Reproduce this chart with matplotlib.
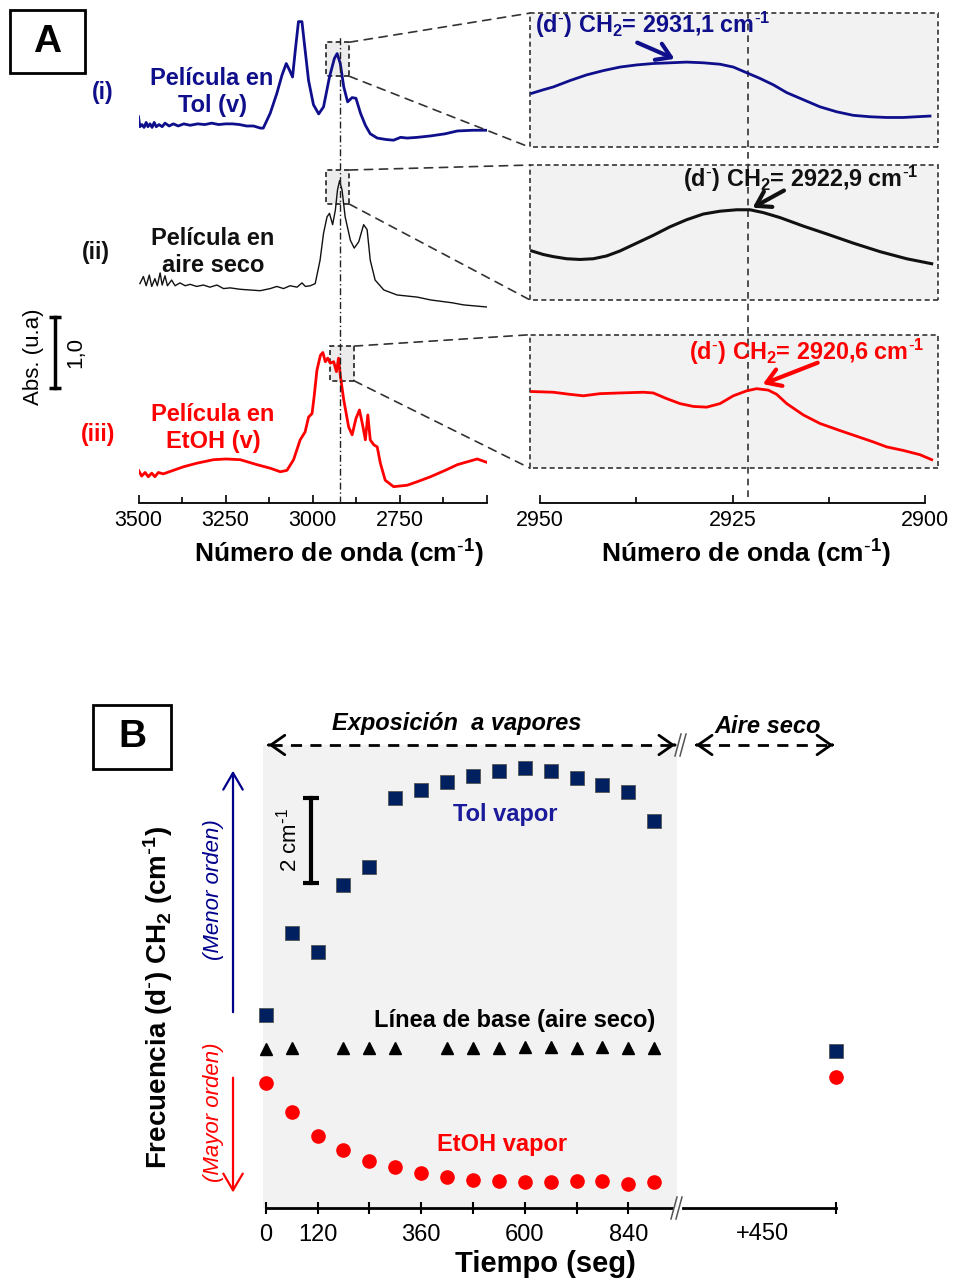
import matplotlib
matplotlib.use("Agg")
import matplotlib.pyplot as plt
from matplotlib.patches import Rectangle, ConnectionPatch
from matplotlib.lines import Line2D

plt.rcParams['font.family'] = ['Liberation Sans', 'DejaVu Sans']
plt.rcParams['mathtext.default'] = 'regular'

# ------------------------------------------------------------------
# Panel A data : FTIR spectra (stacked for display, a.u.)
# ------------------------------------------------------------------
wn_tol = [3500, 3496, 3490, 3484, 3478, 3473, 3467, 3461, 3455, 3449,
          3441, 3432, 3424, 3412, 3400, 3386, 3370, 3352, 3330, 3310,
          3290, 3270, 3250, 3230, 3210, 3190, 3170, 3150, 3142, 3122,
          3103, 3088, 3076, 3067, 3058, 3050, 3041, 3031, 3024, 3012,
          2998, 2983, 2969, 2952, 2938, 2930, 2921, 2911, 2900, 2887,
          2876, 2863, 2849, 2835, 2815, 2790, 2768, 2748, 2729, 2700,
          2662, 2620, 2585, 2540, 2499]
abs_tol = [5.44, 5.30, 5.33, 5.29, 5.36, 5.30, 5.34, 5.29, 5.36, 5.30,
           5.33, 5.30, 5.35, 5.31, 5.34, 5.31, 5.34, 5.32, 5.34, 5.33,
           5.35, 5.33, 5.34, 5.34, 5.33, 5.31, 5.31, 5.28, 5.28, 5.49,
           5.77, 6.03, 6.19, 6.10, 6.00, 6.38, 6.78, 6.78, 6.47, 5.95,
           5.61, 5.48, 5.58, 6.00, 6.26, 6.33, 6.19, 5.86, 5.65, 5.71,
           5.70, 5.49, 5.32, 5.20, 5.14, 5.12, 5.11, 5.15, 5.14, 5.15,
           5.17, 5.20, 5.24, 5.25, 5.25]

wn_air = [3496, 3486, 3478, 3469, 3462, 3453, 3446, 3438, 3432, 3424,
          3417, 3405, 3395, 3381, 3366, 3352, 3333, 3314, 3295, 3275,
          3256, 3237, 3208, 3180, 3151, 3122, 3103, 3084, 3065, 3045,
          3031, 3021, 3007, 2993, 2979, 2969, 2959, 2952, 2943, 2935,
          2929, 2923, 2916, 2907, 2892, 2881, 2868, 2854, 2844, 2835,
          2821, 2796, 2758, 2700, 2662, 2600, 2567, 2499]
abs_air = [3.09, 3.19, 3.06, 3.21, 3.05, 3.16, 3.06, 3.24, 3.07, 3.20,
           3.06, 3.14, 3.06, 3.10, 3.06, 3.08, 3.05, 3.07, 3.04, 3.07,
           3.02, 3.03, 3.01, 3.00, 2.99, 3.02, 3.05, 3.02, 3.06, 3.04,
           3.10, 3.05, 3.06, 3.09, 3.42, 3.80, 4.03, 4.08, 3.92, 4.13,
           4.41, 4.54, 4.41, 4.03, 3.70, 3.59, 3.68, 3.92, 3.85, 3.42,
           3.14, 3.00, 2.93, 2.90, 2.86, 2.82, 2.79, 2.76]

wn_etoh = [3500, 3491, 3481, 3472, 3462, 3453, 3443, 3429, 3400, 3371,
           3333, 3285, 3249, 3208, 3160, 3122, 3093, 3074, 3055, 3036,
           3022, 3012, 3002, 2996, 2988, 2978, 2971, 2964, 2957, 2950,
           2940, 2932, 2926, 2921, 2911, 2897, 2887, 2876, 2866, 2857,
           2849, 2842, 2835, 2825, 2815, 2806, 2792, 2768, 2729, 2700,
           2662, 2620, 2585, 2528, 2499]
abs_etoh = [0.46, 0.38, 0.43, 0.37, 0.42, 0.37, 0.43, 0.41, 0.46, 0.51,
            0.56, 0.61, 0.62, 0.61, 0.54, 0.49, 0.44, 0.46, 0.61, 0.89,
            1.00, 1.21, 1.26, 1.50, 1.87, 2.08, 2.12, 1.99, 2.04, 1.97,
            1.99, 1.85, 2.04, 1.80, 1.45, 1.07, 0.96, 1.19, 1.31, 1.10,
            0.89, 1.24, 0.89, 0.82, 0.79, 0.56, 0.32, 0.23, 0.25, 0.30,
            0.37, 0.46, 0.54, 0.62, 0.57]

# zoomed region 2950-2900 cm-1 (display units)
wnz_tol = [2951.08, 2949.57, 2948.27, 2946.10, 2943.94, 2941.77, 2939.61, 2937.45,
           2935.29, 2933.12, 2930.95, 2928.79, 2926.62, 2924.89, 2923.16, 2921.43,
           2919.70, 2917.96, 2915.80, 2913.64, 2911.47, 2909.31, 2907.14, 2904.97,
           2902.81, 2899.35]
zoom_tol = [5.77, 5.82, 5.86, 5.95, 6.03, 6.09, 6.14, 6.17,
            6.19, 6.20, 6.21, 6.20, 6.18, 6.14, 6.06, 5.98,
            5.89, 5.78, 5.68, 5.58, 5.51, 5.46, 5.44, 5.43,
            5.43, 5.45]
wnz_air = [2951.08, 2949.57, 2948.27, 2946.53, 2944.81, 2943.08, 2941.34, 2939.61,
           2937.45, 2935.29, 2933.12, 2930.95, 2928.79, 2926.62, 2924.46, 2922.73,
           2921.00, 2918.83, 2915.80, 2912.77, 2909.31, 2905.84, 2902.38, 2899.13]
zoom_air = [3.55, 3.50, 3.47, 3.44, 3.43, 3.44, 3.48, 3.55,
            3.66, 3.77, 3.89, 3.99, 4.07, 4.11, 4.13, 4.13,
            4.09, 4.02, 3.90, 3.79, 3.66, 3.54, 3.44, 3.37]
wnz_etoh = [2951.08, 2948.27, 2946.10, 2944.37, 2942.21, 2939.61, 2936.58, 2935.29,
            2933.55, 2931.82, 2930.09, 2928.35, 2926.62, 2924.89, 2923.16, 2921.86,
            2920.35, 2919.26, 2917.96, 2915.80, 2913.64, 2911.04, 2908.87, 2906.71,
            2904.97, 2902.81, 2900.65, 2899.13]
zoom_etoh = [1.57, 1.56, 1.53, 1.51, 1.54, 1.55, 1.56, 1.55,
             1.47, 1.40, 1.36, 1.35, 1.40, 1.51, 1.58, 1.61,
             1.59, 1.53, 1.40, 1.24, 1.12, 1.02, 0.94, 0.86,
             0.79, 0.74, 0.68, 0.61]

peak_labels = ['2931,1', '2922,9', '2920,6']
xticks_left = [3500, 3250, 3000, 2750]
xticks_right = [2950, 2925, 2900]

# ------------------------------------------------------------------
# Panel B data : (d-) CH2 frequency vs time
# ------------------------------------------------------------------
t_exp = [0, 60, 120, 180, 240, 300, 360, 420, 480, 540, 600, 660, 720, 780, 840, 900]
freq_tol = [2923.70, 2925.63, 2925.18, 2926.76, 2927.19, 2928.81, 2928.99, 2929.18,
            2929.32, 2929.44, 2929.50, 2929.44, 2929.27, 2929.10, 2928.95, 2928.26]
freq_etoh = [2922.11, 2921.41, 2920.86, 2920.52, 2920.26, 2920.12, 2919.98, 2919.90,
             2919.83, 2919.79, 2919.76, 2919.76, 2919.79, 2919.79, 2919.72, 2919.76]
t_air = [0, 60, 180, 240, 300, 420, 480, 540, 600, 660, 720, 780, 840, 900]
freq_air = [2922.90, 2922.93, 2922.92, 2922.92, 2922.92, 2922.92, 2922.92,
            2922.92, 2922.95, 2922.95, 2922.92, 2922.95, 2922.92, 2922.92]
t_post = [1350]            # 900 s + 450 s in dry air
freq_tol_post = [2922.85]
freq_etoh_post = [2922.24]
time_ticks = [0, 120, 240, 360, 480, 600, 720, 840]
time_labels = ['0', '120', '', '360', '', '600', '', '840']

# ------------------------------------------------------------------
W, H = 960, 1284
def fx(px): return px / W
def fy(py): return 1 - py / H

BLUE = '#0f0f8c'
NAVY = '#002060'
RED = '#ff0000'
FILL = '#f2f2f2'
SUPM = r'$^{\text{-}}$'
CM1 = r'cm$^{\text{-}1}$'

fig = plt.figure(figsize=(9.6, 12.84), dpi=100)

# ---------------- Panel A : full spectra ----------------
axL = fig.add_axes([fx(138.5), fy(503), (487 - 138.5) / W, (503 - 10) / H])
axL.patch.set_visible(False)
axL.set_xlim(3500, 2500)
axL.set_ylim(0, 493 / 71)
for s in ['top', 'right', 'left']:
    axL.spines[s].set_visible(False)
axL.spines['bottom'].set_linewidth(1.3)
axL.set_yticks([])
axL.set_xticks([3500, 3250, 3000, 2750, 2500])
axL.set_xticklabels([str(v) for v in xticks_left] + [''])
axL.set_xticks([3375, 3125, 2875, 2625], minor=True)
axL.tick_params(axis='x', which='major', direction='in', length=6, width=1.2,
                labelsize=15.5, pad=5)
axL.tick_params(axis='x', which='minor', direction='in', length=4, width=1.2)

axL.plot(wn_tol, abs_tol, color=BLUE, lw=2.0, zorder=4, solid_joinstyle='round')
axL.plot(wn_air, abs_air, color='#111111', lw=1.0, zorder=4)
axL.plot(wn_etoh, abs_etoh, color=RED, lw=2.0, zorder=4, solid_joinstyle='round')

# small zoom boxes
small_boxes = [(2895, 6.01, 66.1, 0.48), (2895, 4.21, 66.1, 0.48), (2881, 1.72, 69, 0.49)]
for (x0, y0, w, h) in small_boxes:
    axL.add_patch(Rectangle((x0, y0), w, h, facecolor='#ececec', edgecolor='#222222',
                            lw=1.2, ls=(0, (3, 2)), zorder=2))
# dash-dot guide
axL.plot([2923, 2923], [0, 6.59], color='#222222', lw=1.0, ls=(0, (5, 2, 1, 2)), zorder=5)

# absorbance scale bar (1,0 a.u.)
axL.plot([3740, 3740], [1.62, 2.62], color='k', lw=2.5, clip_on=False)
axL.plot([3740, 3740], [1.62, 2.62], ls='none', marker='_', ms=8, mew=2.5, color='k', clip_on=False)

# ---------------- Panel A : zoomed region ----------------
axR = fig.add_axes([fx(540), fy(503), (925 - 540) / W, (503 - 10) / H])
axR.patch.set_visible(False)
axR.set_xlim(2950, 2900)
axR.set_ylim(0, 493 / 71)
for s in ['top', 'right', 'left']:
    axR.spines[s].set_visible(False)
axR.spines['bottom'].set_linewidth(1.3)
axR.set_yticks([])
axR.set_xticks(xticks_right)
axR.set_xticklabels([str(v) for v in xticks_right])
axR.set_xticks([2937.5, 2912.5], minor=True)
axR.tick_params(axis='x', which='major', direction='in', length=6, width=1.2,
                labelsize=15.5, pad=5)
axR.tick_params(axis='x', which='minor', direction='in', length=4, width=1.2)

big_boxes = [(2898.3, 5.01, 53.0, 1.89), (2898.3, 2.86, 53.0, 1.90), (2898.3, 0.49, 53.0, 1.88)]
for (x0, y0, w, h) in big_boxes:
    axR.add_patch(Rectangle((x0, y0), w, h, facecolor=FILL, edgecolor='#333333',
                            lw=1.2, ls=(0, (3, 2)), zorder=1, clip_on=False))

axR.plot(wnz_tol, zoom_tol, color=BLUE, lw=2.0, zorder=4, clip_on=False, solid_joinstyle='round')
axR.plot(wnz_air, zoom_air, color='#111111', lw=2.2, zorder=4, clip_on=False, solid_joinstyle='round')
axR.plot(wnz_etoh, zoom_etoh, color=RED, lw=2.0, zorder=4, clip_on=False, solid_joinstyle='round')
axR.plot([2923.05, 2923.05], [0.08, 6.93], color='#333333', lw=1.2, ls=(0, (4, 3)),
         zorder=3, clip_on=False)

# annotations
apro = dict(arrowstyle='->,head_length=0.55,head_width=0.35', lw=3, mutation_scale=18)
axR.text(2950.6, 6.73, '(d' + SUPM + ') CH$_2$= ' + peak_labels[0] + ' ' + CM1, color=BLUE,
         fontsize=16.8, fontweight='bold', ha='left', va='center', zorder=6)
axR.annotate('', xy=(2932.2, 6.24), xytext=(2937.7, 6.50),
             arrowprops=dict(apro, color=BLUE), zorder=6)
axR.text(2900.9, 4.57, '(d' + SUPM + ') CH$_2$= ' + peak_labels[1] + ' ' + CM1, color='#111111',
         fontsize=16.8, fontweight='bold', ha='right', va='center', zorder=6)
axR.annotate('', xy=(2922.7, 4.14), xytext=(2918.0, 4.42),
             arrowprops=dict(apro, color='#111111'), zorder=6)
axR.text(2900.0, 2.13, '(d' + SUPM + ') CH$_2$= ' + peak_labels[2] + ' ' + CM1, color=RED,
         fontsize=16.8, fontweight='bold', ha='right', va='center', zorder=6)
axR.annotate('', xy=(2921.4, 1.66), xytext=(2913.6, 1.99),
             arrowprops=dict(apro, color=RED), zorder=6)

# connection lines small -> big boxes
for (sx0, sy0, sw, sh), (bx0, by0, bw, bh) in zip(small_boxes, big_boxes):
    for sy, by in [(sy0 + sh, by0 + bh), (sy0, by0)]:
        con = ConnectionPatch(xyA=(sx0, sy), coordsA=axL.transData,
                              xyB=(bx0 + bw, by), coordsB=axR.transData,
                              color='#333333', lw=1.2, ls=(0, (5, 4)))
        fig.add_artist(con)

# panel A texts
fig.add_artist(Rectangle((fx(10), fy(73)), 75 / W, 63 / H, transform=fig.transFigure,
                         fill=False, lw=2, edgecolor='k'))
fig.text(fx(47), fy(42), 'A', fontsize=28, fontweight='bold', ha='center', va='center')
fig.text(fx(103), fy(92), '(i)', color=BLUE, fontsize=16.5, fontweight='bold', ha='center', va='center')
fig.text(fx(96), fy(252), '(ii)', color='#111111', fontsize=16.5, fontweight='bold', ha='center', va='center')
fig.text(fx(98), fy(435), '(iii)', color=RED, fontsize=16.5, fontweight='bold', ha='center', va='center')
fig.text(fx(212), fy(92), 'Película en\nTol (v)', color=BLUE, fontsize=17, fontweight='bold',
         ha='center', va='center', linespacing=1.2)
fig.text(fx(213), fy(252), 'Película en\naire seco', color='#111111', fontsize=17, fontweight='bold',
         ha='center', va='center', linespacing=1.2)
fig.text(fx(213), fy(428), 'Película en\nEtOH (v)', color=RED, fontsize=17, fontweight='bold',
         ha='center', va='center', linespacing=1.2)
fig.text(fx(33), fy(357), 'Abs. (u.a)', rotation=90, fontsize=16, ha='center', va='center')
fig.text(fx(76), fy(352), '1,0', rotation=90, fontsize=16, ha='center', va='center')
fig.text(fx(339), fy(554), 'Número de onda (' + CM1 + ')', fontsize=19, fontweight='bold',
         ha='center', va='center')
fig.text(fx(746), fy(554), 'Número de onda (' + CM1 + ')', fontsize=19, fontweight='bold',
         ha='center', va='center')

# ---------------- Panel B ----------------
YLO, YHI = 2919.16, 2930.05
axB = fig.add_axes([fx(263), fy(1208), (677 - 263) / W, (1208 - 745) / H])
axB.set_facecolor(FILL)
axB.set_xlim(-6.25, 952.7)
axB.set_ylim(YLO, YHI)
for s in ['top', 'right', 'left']:
    axB.spines[s].set_visible(False)
axB.spines['bottom'].set_bounds(0, 940)
axB.spines['bottom'].set_linewidth(2)
axB.set_yticks([])
axB.set_xticks(time_ticks)
axB.set_xticklabels(time_labels)
axB.tick_params(axis='x', direction='inout', length=9, width=1.5, labelsize=17, pad=7)

axB.plot(t_exp, freq_tol, ls='none', marker='s', ms=9.5, mfc=NAVY, mec='#555555', mew=0.6,
         clip_on=False, zorder=5)
axB.plot(t_air, freq_air, ls='none', marker='^', ms=9, color='k', clip_on=False, zorder=5)
axB.plot(t_exp, freq_etoh, ls='none', marker='o', ms=9.5, color=RED, clip_on=False, zorder=5)

axP = fig.add_axes([fx(681), fy(1208), (845 - 681) / W, (1208 - 745) / H])
axP.patch.set_visible(False)
axP.set_xlim(1000, 1370)
axP.set_ylim(YLO, YHI)
for s in ['top', 'right', 'left']:
    axP.spines[s].set_visible(False)
axP.spines['bottom'].set_bounds(1005, 1350)
axP.spines['bottom'].set_linewidth(2)
axP.set_yticks([])
axP.set_xticks([1183])
axP.set_xticklabels(['+450'])
axP.set_xticks([1350], minor=True)
axP.tick_params(axis='x', which='major', length=0, labelsize=17, pad=11)
axP.tick_params(axis='x', which='minor', direction='inout', length=9, width=1.5)
axP.plot(t_post, freq_tol_post, ls='none', marker='s', ms=9.5, mfc=NAVY, mec='#555555', mew=0.6,
         clip_on=False, zorder=5)
axP.plot(t_post, freq_etoh_post, ls='none', marker='o', ms=9.5, color=RED, clip_on=False, zorder=5)

# top dashed double arrows
head = dict(arrowstyle='->,head_length=0.5,head_width=0.35', lw=2, color='k', mutation_scale=20)
ytop = 2930.05
axB.plot([12, 945], [ytop, ytop], color='k', lw=2, ls=(0, (4, 3)), clip_on=False, zorder=6)
axB.annotate('', xy=(0, ytop), xytext=(14, ytop), arrowprops=head, annotation_clip=False)
axB.annotate('', xy=(955, ytop), xytext=(941, ytop), arrowprops=head, annotation_clip=False)
axP.plot([1040, 1335], [ytop, ytop], color='k', lw=2, ls=(0, (4, 3)), clip_on=False, zorder=6)
axP.annotate('', xy=(1027, ytop), xytext=(1042, ytop), arrowprops=head, annotation_clip=False)
axP.annotate('', xy=(1350, ytop), xytext=(1335, ytop), arrowprops=head, annotation_clip=False)
axB.text(443, 2930.55, 'Exposición  a vapores', fontsize=17, fontweight='bold', style='italic',
         ha='center', va='center')
axP.text(1196, 2930.48, 'Aire seco', fontsize=17, fontweight='bold', style='italic',
         ha='center', va='center')

# break marks
def brk(xp, yp):
    for dx in (-3, 2):
        fig.add_artist(Line2D([fx(xp + dx - 3), fx(xp + dx), fx(xp + dx + 3)],
                              [fy(yp + 11), fy(yp), fy(yp - 11)],
                              transform=fig.transFigure, color='#555555', lw=1.1))
brk(677, 1208)
brk(681, 745)

# order arrows
axB.annotate('', xy=(-75.7, 2929.51), xytext=(-75.7, 2923.70), annotation_clip=False,
             arrowprops=dict(arrowstyle='->,head_length=0.6,head_width=0.35', lw=1.6,
                             color='#00008B', mutation_scale=20))
axB.annotate('', xy=(-75.7, 2919.46), xytext=(-75.7, 2922.29), annotation_clip=False,
             arrowprops=dict(arrowstyle='->,head_length=0.6,head_width=0.35', lw=1.6,
                             color=RED, mutation_scale=20))

# 2 cm-1 scale bar
axB.plot([105.6, 105.6], [2926.81, 2928.81], color='k', lw=3, zorder=6)
axB.plot([105.6, 105.6], [2926.81, 2928.81], ls='none', marker='_', ms=11, mew=3, color='k', zorder=6)
axB.text(54, 2927.82, '2 ' + CM1, rotation=90, fontsize=16, ha='center', va='center')

axB.text(555, 2928.41, 'Tol vapor', color='#1a1a9a', fontsize=17, fontweight='bold',
         ha='center', va='center')
axB.text(577, 2923.58, 'Línea de base (aire seco)', color='k', fontsize=17, fontweight='bold',
         ha='center', va='center')
axB.text(548, 2920.66, 'EtOH vapor', color=RED, fontsize=17, fontweight='bold',
         ha='center', va='center')

fig.add_artist(Rectangle((fx(93), fy(769)), 78 / W, 64 / H, transform=fig.transFigure,
                         fill=False, lw=2, edgecolor='k'))
fig.text(fx(132), fy(737), 'B', fontsize=28, fontweight='bold', ha='center', va='center')
fig.text(fx(158), fy(997), 'Frecuencia (d' + SUPM + ') CH$_2$ (' + CM1 + ')', rotation=90,
         fontsize=20, fontweight='bold', ha='center', va='center')
fig.text(fx(213), fy(890), '(Menor orden)', rotation=90, style='italic', color='#00008B',
         fontsize=16, ha='center', va='center')
fig.text(fx(213), fy(1112), '(Mayor orden)', rotation=90, style='italic', color=RED,
         fontsize=16, ha='center', va='center')
fig.text(fx(545), fy(1264), 'Tiempo (seg)', fontsize=21, fontweight='bold',
         ha='center', va='center')

fig.savefig('out.png', dpi=100)
